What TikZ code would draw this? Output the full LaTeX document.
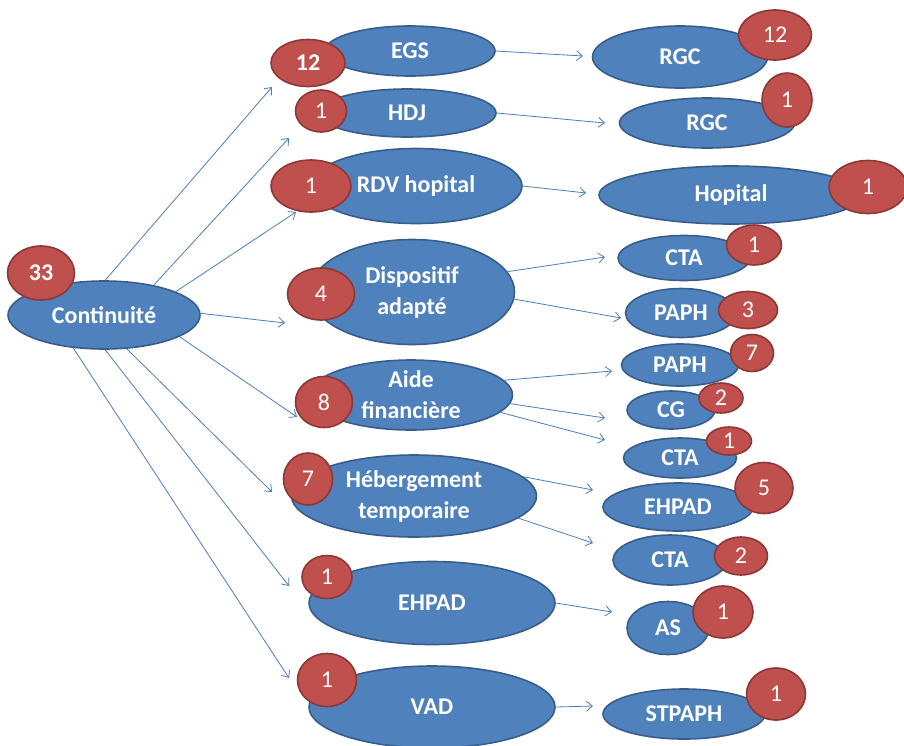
\documentclass[tikz,border=0pt]{standalone}
\usepackage{fontspec}
\setmainfont{Carlito}
\usetikzlibrary{shapes.geometric,arrows.meta}
\definecolor{boxblue}{HTML}{4F81BD}
\definecolor{edgeblue}{HTML}{385D8A}
\definecolor{badgered}{HTML}{C0504D}
\definecolor{edgered}{HTML}{8C3836}
\definecolor{linkblue}{HTML}{4A7EBB}

\begin{document}
\begin{tikzpicture}[x=1pt,y=-1pt,
  bubble/.style={ellipse,draw=edgeblue,fill=boxblue,line width=1.6pt,inner sep=-4pt,
    text=white,font=\fontsize{24}{31}\selectfont\bfseries,align=center},
  count/.style={ellipse,draw=edgered,fill=badgered,line width=1.6pt,inner sep=0pt,
    text=white,font=\fontsize{24}{28}\selectfont},
  link/.style={draw=linkblue,line width=0.8pt,-{Straight Barb[length=6pt,width=10pt]}}]
  \useasboundingbox (0,0) rectangle (904,745);
  % left column
  \node[bubble,minimum width=192,minimum height=68] (cont) at (104,315) {Continuité};
  % middle column
  \node[bubble,minimum width=170,minimum height=50] (egs) at (410,51) {EGS};
  \node[bubble,minimum width=178,minimum height=48] (hdj) at (407,113) {HDJ};
  \node[bubble,minimum width=212,minimum height=75] (rdv) at (416,186) {RDV hopital};
  \node[bubble,minimum width=205,minimum height=105] (disp) at (412,292) {Dispositif\\adapté};
  \node[bubble,minimum width=203,minimum height=70] (aide) at (411,395) {Aide\\financière};
  \node[bubble,minimum width=245,minimum height=82] (heb) at (414,496) {Hébergement\\temporaire};
  \node[bubble,minimum width=246,minimum height=83] (ehpadL) at (432,603) {EHPAD};
  \node[bubble,minimum width=246,minimum height=82] (vad) at (432,707) {VAD};
  % right column
  \node[bubble,minimum width=175,minimum height=62] (rgcA) at (680,57) {RGC};
  \node[bubble,minimum width=175,minimum height=50] (rgcB) at (707,123) {RGC};
  \node[bubble,minimum width=264,minimum height=58] (hop) at (731,195) {Hopital};
  \node[bubble,minimum width=132,minimum height=45] (ctaA) at (684,258) {CTA};
  \node[bubble,minimum width=111,minimum height=49] (paphA) at (681,313) {PAPH};
  \node[bubble,minimum width=117,minimum height=42] (paphB) at (680,365) {PAPH};
  \node[bubble,minimum width=88,minimum height=38] (cg) at (671,410) {CG};
  \node[bubble,minimum width=113,minimum height=40] (ctaB) at (680,458) {CTA};
  \node[bubble,minimum width=150,minimum height=48] (ehpadR) at (678,507) {EHPAD};
  \node[bubble,minimum width=114,minimum height=50] (ctaC) at (670,560) {CTA};
  \node[bubble,minimum width=82,minimum height=53] (as) at (668,628) {AS};
  \node[bubble,minimum width=162,minimum height=50] (stp) at (684,714) {STPAPH};
  % counts
  \node[count,minimum width=67,minimum height=54,font=\fontsize{24}{28}\selectfont\bfseries] (nCont) at (41,273) {33};
  \node[count,minimum width=74,minimum height=47,font=\fontsize{24}{28}\selectfont\bfseries] (nEgs) at (308,63) {12};
  \foreach \n/\x/\y/\w/\h/\t in {nHdj/321/111/51/42/1, nRdv/311/186/80/52/1, nDisp/321/294/67/52/4,
      nAide/324/402/57/51/8, nHeb/308/479/49/52/7, nEhpadL/327/577/50/43/1, nVad/327/680/59/53/1,
      nRgcA/775/35/73/50/12, nRgcB/787/100/50/54/1, nHop/868/187/78/53/1, nCtaA/754/245/55/40/1,
      nPaphA/748/310/59/37/3, nPaphB/752/353/43/37/7, nCg/721/398/44/30/2, nCtaB/729/441/45/28/1,
      nEhpadR/764/488/58/51/5, nCtaC/741/556/53/38/2, nAs/723/612/60/52/1, nStp/776/694/59/52/1}
    \node[count,minimum width=\w,minimum height=\h] (\n) at (\x,\y) {\t};
  % arrow ends
  \coordinate (tEgs) at (272,87);  \coordinate (tHdj) at (289,138); \coordinate (tRdv) at (296,212);
  \coordinate (tDisp) at (285,323); \coordinate (tAide) at (297,417); \coordinate (tHeb) at (272,492);
  \coordinate (tEhpad) at (289,586); \coordinate (tVad) at (289,678);
  \coordinate (tRgcA) at (583,56); \coordinate (tRgcB) at (605,123); \coordinate (tHop) at (586,193);
  \coordinate (tCtaA) at (605,257); \coordinate (tPaphA) at (621,318); \coordinate (tPaphB) at (612,371);
  \coordinate (tCg) at (605,418); \coordinate (tCtaB) at (605,440); \coordinate (tEhpadR) at (593,490);
  \coordinate (tCtaC) at (593,543); \coordinate (tAs) at (612,612); \coordinate (tStp) at (593,706);
  \foreach \s/\e in {cont.88/tEgs, cont.31/tHdj, cont.18/tRdv, cont.1/tDisp, cont.-16/tAide,
      cont.-56/tHeb, cont.-88/tEhpad, cont.-133/tVad,
      egs.east/tRgcA, hdj.east/tRgcB, rdv.east/tHop, disp.12/tCtaA, disp.-4/tPaphA,
      aide.9/tPaphB, aide.-5/tCg, aide.-11/tCtaB, heb.10/tEhpadR, heb.-12/tCtaC,
      ehpadL.east/tAs, vad.east/tStp}
    \draw[link] (\s) -- (\e);
\end{tikzpicture}
\end{document}
